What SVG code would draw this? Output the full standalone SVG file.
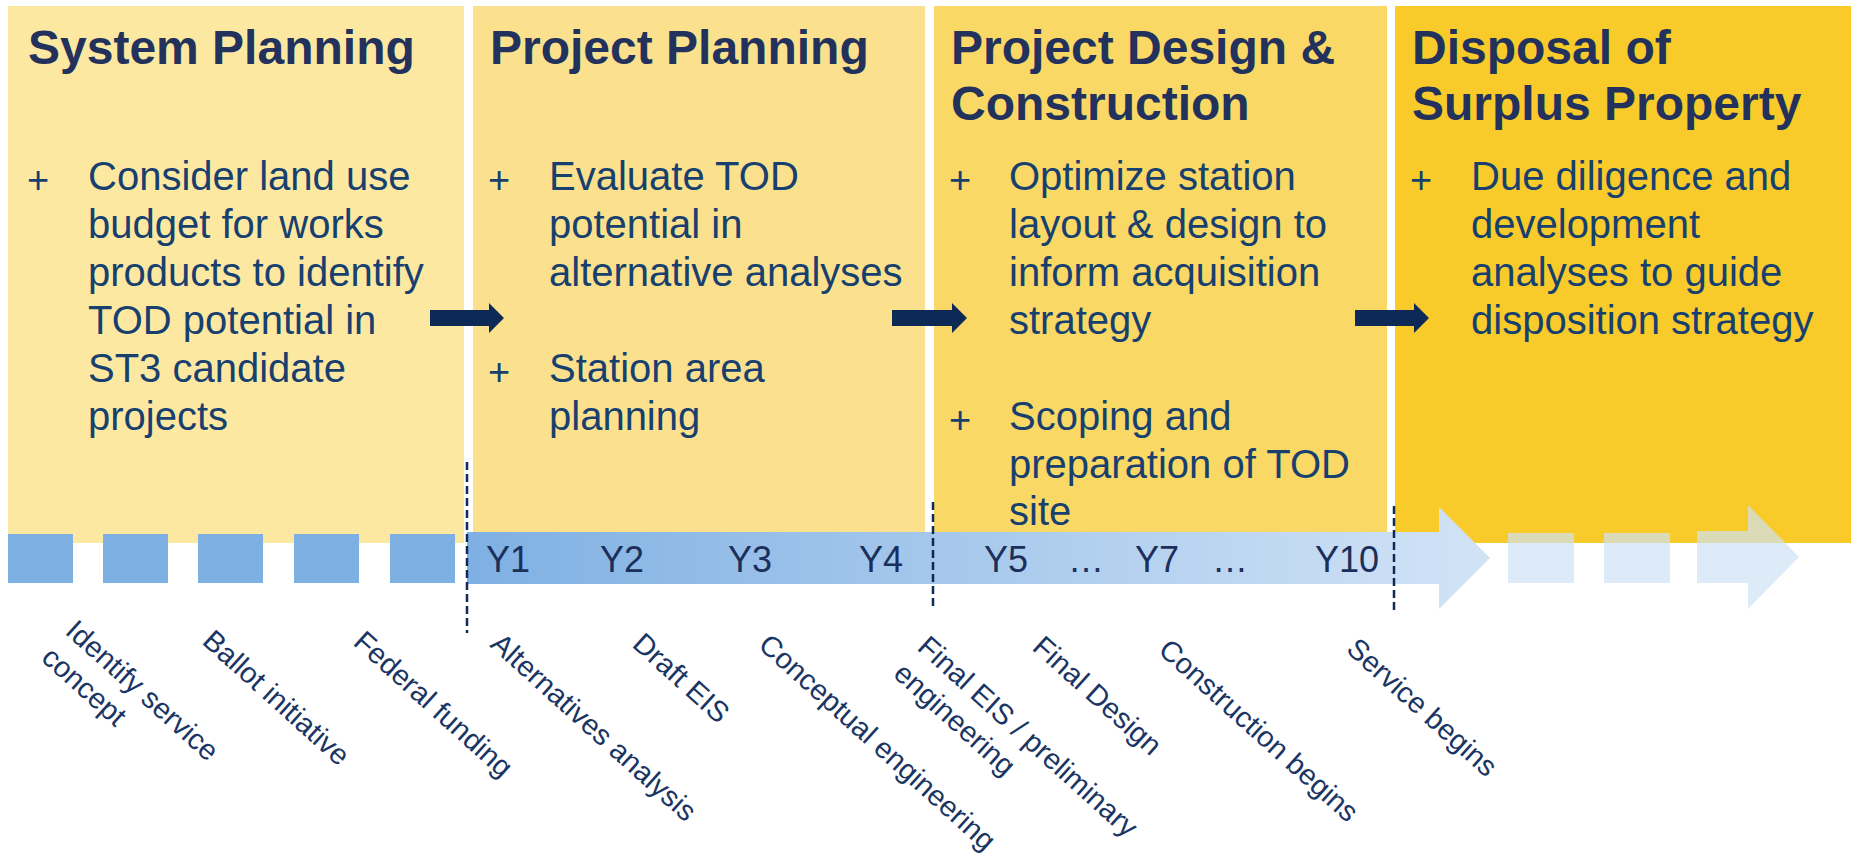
<svg xmlns="http://www.w3.org/2000/svg" width="1851" height="860" viewBox="0 0 1851 860">
<defs>
<linearGradient id="bandGrad" gradientUnits="userSpaceOnUse" x1="467" y1="0" x2="1490" y2="0">
<stop offset="0" stop-color="#7FB0E3"/>
<stop offset="1" stop-color="#D2E3F6"/>
</linearGradient>
<style>
.title{font-family:"Liberation Sans",Arial,sans-serif;font-weight:bold;font-size:48px;fill:#23325C}
.body{font-family:"Liberation Sans",Arial,sans-serif;font-size:40px;fill:#17406F}
.plus{font-family:"Liberation Sans",Arial,sans-serif;font-size:38px;fill:#17406F;text-anchor:middle}
.year{font-family:"Liberation Sans",Arial,sans-serif;font-size:36px;fill:#1B2F5B}
.lbl{font-family:"Liberation Sans",Arial,sans-serif;font-size:29px;fill:#1A3563}
.arrow{fill:#0D2A57}
.sq{fill:#7EB0E3}
.fade{fill:#CFE1F5;opacity:0.7}
.dash{stroke:#0F2A57;stroke-width:2.5;stroke-dasharray:8 4;fill:none}
</style>
</defs>
<rect width="1851" height="860" fill="#FFFFFF"/>

<g id="panel-system-planning">
<rect x="8" y="6" width="456" height="537" fill="#FDE8A2"/>
<text class="title" x="28" y="64">System Planning</text>
<text class="plus" x="38" y="193">+</text>
<text class="body" x="88" y="190">Consider land use</text>
<text class="body" x="88" y="238">budget for works</text>
<text class="body" x="88" y="286">products to identify</text>
<text class="body" x="88" y="334">TOD potential in</text>
<text class="body" x="88" y="382">ST3 candidate</text>
<text class="body" x="88" y="430">projects</text>
</g>

<g id="panel-project-planning">
<rect x="473" y="6" width="452" height="527" fill="#FBE18D"/>
<text class="title" x="490" y="64">Project Planning</text>
<text class="plus" x="499" y="193">+</text>
<text class="body" x="549" y="190">Evaluate TOD</text>
<text class="body" x="549" y="238">potential in</text>
<text class="body" x="549" y="286">alternative analyses</text>
<text class="plus" x="499" y="385">+</text>
<text class="body" x="549" y="382">Station area</text>
<text class="body" x="549" y="430">planning</text>
</g>

<g id="panel-design-construction">
<rect x="934" y="6" width="453" height="527" fill="#F9D865"/>
<text class="title" x="951" y="64">Project Design &amp;</text>
<text class="title" x="951" y="120">Construction</text>
<text class="plus" x="960" y="193">+</text>
<text class="body" x="1009" y="190">Optimize station</text>
<text class="body" x="1009" y="238">layout &amp; design to</text>
<text class="body" x="1009" y="286">inform acquisition</text>
<text class="body" x="1009" y="334">strategy</text>
<text class="plus" x="960" y="433">+</text>
<text class="body" x="1009" y="430">Scoping and</text>
<text class="body" x="1009" y="478">preparation of TOD</text>
<text class="body" x="1009" y="525">site</text>
</g>

<g id="panel-disposal">
<rect x="1395" y="6" width="456" height="537" fill="#F8CB2A"/>
<text class="title" x="1412" y="64">Disposal of</text>
<text class="title" x="1412" y="120">Surplus Property</text>
<text class="plus" x="1421" y="193">+</text>
<text class="body" x="1471" y="190">Due diligence and</text>
<text class="body" x="1471" y="238">development</text>
<text class="body" x="1471" y="286">analyses to guide</text>
<text class="body" x="1471" y="334">disposition strategy</text>
</g>

<g id="connectors">
<polygon class="arrow" points="430,310 489,310 489,303 504,318 489,333 489,326 430,326"/>
<polygon class="arrow" points="892,310 952,310 952,303 967,318 952,333 952,326 892,326"/>
<polygon class="arrow" points="1355,310 1414,310 1414,303 1429,318 1414,333 1414,326 1355,326"/>
</g>

<g id="timeline">
<rect class="sq" x="8" y="534" width="65" height="49"/>
<rect class="sq" x="103" y="534" width="65" height="49"/>
<rect class="sq" x="198" y="534" width="65" height="49"/>
<rect class="sq" x="294" y="534" width="65" height="49"/>
<rect class="sq" x="390" y="534" width="65" height="49"/>
<polygon fill="url(#bandGrad)" points="467,532 1439,532 1439,507 1490,558 1439,609 1439,584 467,584"/>
<rect class="fade" x="1508" y="533" width="66" height="50"/>
<rect class="fade" x="1604" y="533" width="66" height="50"/>
<polygon class="fade" points="1697,531 1748,531 1748,505 1799,557 1748,609 1748,583 1697,583"/>
<line class="dash" x1="467" y1="462" x2="467" y2="633"/>
<line class="dash" x1="933" y1="502" x2="933" y2="610"/>
<line class="dash" x1="1394" y1="506" x2="1394" y2="613"/>
<text class="year" x="486" y="572">Y1</text>
<text class="year" x="600" y="572">Y2</text>
<text class="year" x="728" y="572">Y3</text>
<text class="year" x="859" y="572">Y4</text>
<text class="year" x="984" y="572">Y5</text>
<text class="year" x="1068" y="572">…</text>
<text class="year" x="1135" y="572">Y7</text>
<text class="year" x="1212" y="572">…</text>
<text class="year" x="1315" y="572">Y10</text>
</g>

<g id="milestones">
<text class="lbl" transform="translate(64,633) rotate(42)">Identify service<tspan x="0" dy="36">concept</tspan></text>
<text class="lbl" transform="translate(201,643) rotate(42)">Ballot initiative</text>
<text class="lbl" transform="translate(352,644) rotate(42)">Federal funding</text>
<text class="lbl" transform="translate(489,646) rotate(42)">Alternatives analysis</text>
<text class="lbl" transform="translate(631,646) rotate(42)">Draft EIS</text>
<text class="lbl" transform="translate(757,647) rotate(42)">Conceptual engineering</text>
<text class="lbl" transform="translate(916,649) rotate(42)">Final EIS / preliminary<tspan x="0" dy="36">engineering</tspan></text>
<text class="lbl" transform="translate(1031,649) rotate(42)">Final Design</text>
<text class="lbl" transform="translate(1157,652) rotate(42)">Construction begins</text>
<text class="lbl" transform="translate(1345,651) rotate(42)">Service begins</text>
</g>
</svg>
